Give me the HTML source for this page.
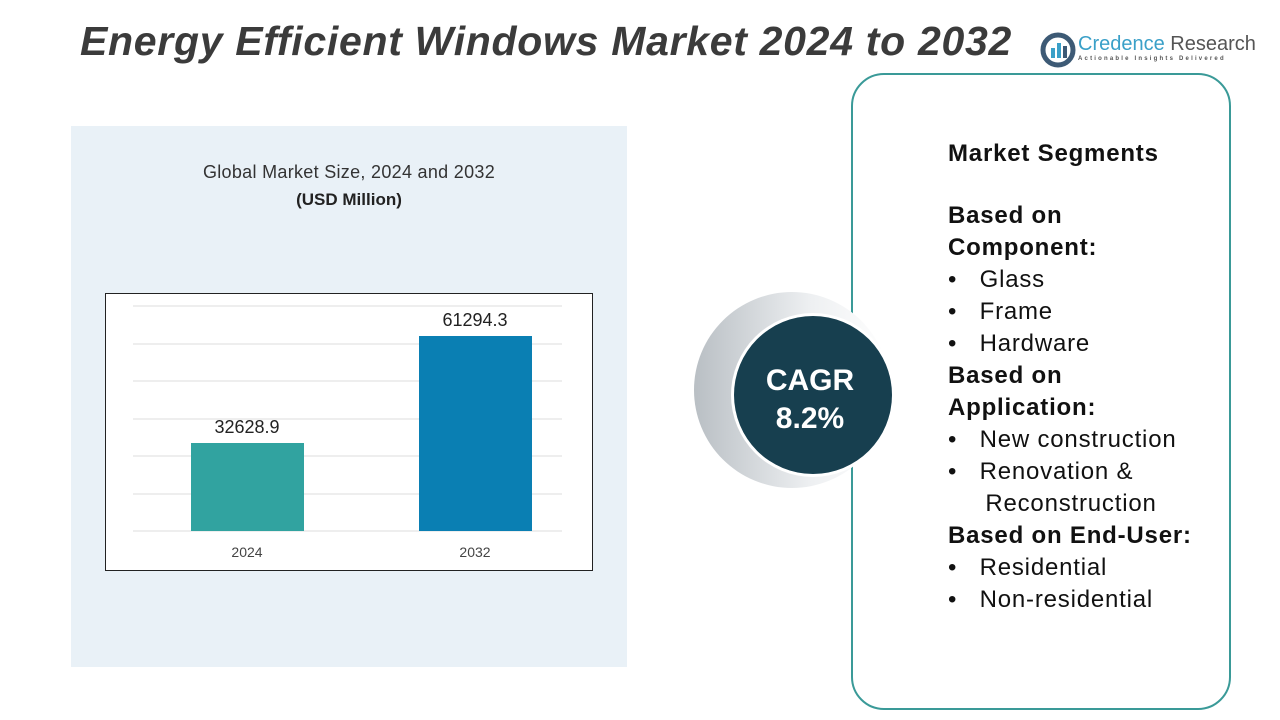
<!DOCTYPE html>
<html><head><meta charset="utf-8"><style>
body{margin:0;width:1280px;height:720px;background:#fff;position:relative;overflow:hidden;font-family:"Liberation Sans",sans-serif}
.a{position:absolute}
</style></head><body>
<div class="a" style="left:80px;top:18px;font-size:41px;font-weight:bold;font-style:italic;color:#3b3b3b;letter-spacing:0.7px">Energy Efficient Windows Market 2024 to 2032</div>
<svg class="a" style="left:1040px;top:32px" width="36" height="36" viewBox="0 0 36 36"><circle cx="18" cy="18" r="15" fill="none" stroke="#3d5a75" stroke-width="5"/><rect x="11" y="16" width="4" height="10" fill="#3aa0c8"/><rect x="17" y="11" width="4" height="15" fill="#3aa0c8"/><rect x="23" y="14" width="4" height="12" fill="#3d5a75"/></svg>
<div class="a" style="left:1078px;top:33px;font-size:20px;color:#3aa0c8">Credence <span style="color:#555">Research</span></div>
<div class="a" style="left:1078px;top:56px;font-size:6px;color:#555;letter-spacing:2.2px;font-weight:bold">Actionable Insights Delivered</div>
<div class="a" style="left:71px;top:126px;width:556px;height:541px;background:#e9f1f7"></div>
<div class="a" style="left:71px;top:162px;width:556px;text-align:center;font-size:18px;color:#333;letter-spacing:0.3px">Global Market Size, 2024 and 2032</div>
<div class="a" style="left:71px;top:190px;width:556px;text-align:center;font-size:17px;font-weight:bold;color:#222">(USD Million)</div>
<svg class="a" style="left:0;top:0" width="1280" height="720">
<rect x="852" y="74" width="378" height="635" rx="32" fill="#fff" stroke="#3a9a98" stroke-width="2"/>
<rect x="105.5" y="293.5" width="487" height="277" fill="#fff" stroke="#222" stroke-width="1"/>
<g stroke="#ddd" stroke-width="1"><line x1="133" x2="562" y1="306" y2="306"/><line x1="133" x2="562" y1="344" y2="344"/><line x1="133" x2="562" y1="381" y2="381"/><line x1="133" x2="562" y1="419" y2="419"/><line x1="133" x2="562" y1="456" y2="456"/><line x1="133" x2="562" y1="494" y2="494"/><line x1="133" x2="562" y1="531" y2="531"/></g>
<rect x="191" y="443" width="113" height="88" fill="#31a3a0"/>
<rect x="419" y="336" width="113" height="195" fill="#0a7fb3"/>
<text x="247" y="433" font-size="18" text-anchor="middle" fill="#222">32628.9</text>
<text x="475" y="326" font-size="18" text-anchor="middle" fill="#222">61294.3</text>
<text x="247" y="557" font-size="14" text-anchor="middle" fill="#444">2024</text>
<text x="475" y="557" font-size="14" text-anchor="middle" fill="#444">2032</text>
<defs><linearGradient id="g" x1="0" x2="1"><stop offset="0" stop-color="#b9bfc4"/><stop offset="0.6" stop-color="#eef0f2"/><stop offset="1" stop-color="#fff"/></linearGradient></defs>
<circle cx="792" cy="390" r="98" fill="url(#g)"/>
<circle cx="813" cy="395" r="82" fill="#fff"/>
<circle cx="813" cy="395" r="79" fill="#173f4f"/>
<text x="810" y="390" font-size="30" font-weight="bold" text-anchor="middle" fill="#fff">CAGR</text>
<text x="810" y="428" font-size="30" font-weight="bold" text-anchor="middle" fill="#fff">8.2%</text>
</svg>
<div class="a" style="left:948px;top:138px;font-size:24px;color:#111;line-height:32px;letter-spacing:0.8px">
<b>Market Segments</b><br><div style="height:30px"></div>
<b>Based on<br>Component:</b><br>
•&nbsp;&nbsp; Glass<br>•&nbsp;&nbsp; Frame<br>•&nbsp;&nbsp; Hardware<br>
<b>Based on<br>Application:</b><br>
•&nbsp;&nbsp; New construction<br>•&nbsp;&nbsp; Renovation &amp;<br>&nbsp;&nbsp;&nbsp;&nbsp; Reconstruction<br>
<b>Based on End-User:</b><br>
•&nbsp;&nbsp; Residential<br>•&nbsp;&nbsp; Non-residential
</div>
</body></html>
